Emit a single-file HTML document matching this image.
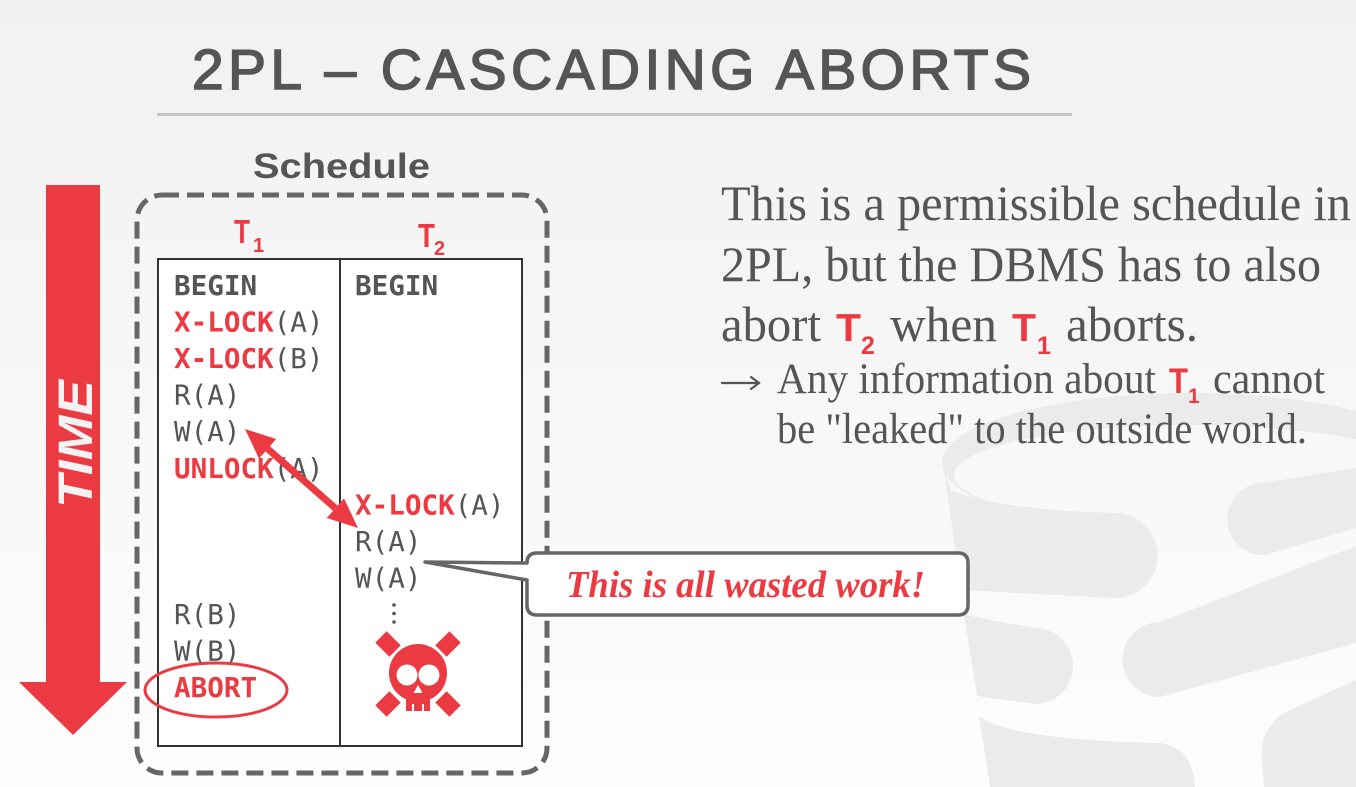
<!DOCTYPE html>
<html><head><meta charset="utf-8"><style>
html,body{margin:0;padding:0;width:1356px;height:787px;overflow:hidden;background:#f6f6f6}
svg{display:block}
</style></head><body>
<svg width="1356" height="787" viewBox="0 0 1356 787" xmlns="http://www.w3.org/2000/svg">
<defs>
<linearGradient id="bg" x1="0" y1="0" x2="0" y2="1"><stop offset="0" stop-color="#f1f1f1"/><stop offset="1" stop-color="#fdfdfd"/></linearGradient>
<clipPath id="ringclip"><rect x="900" y="0" width="456" height="512"/></clipPath>
</defs>
<rect width="1356" height="787" fill="url(#bg)"/>

<!-- watermark -->
<g fill="#ebebeb">
<path clip-path="url(#ringclip)" fill-rule="evenodd" d="M942,463 A248,70 0 1,1 1438,463 A248,70 0 1,1 942,463 Z M954,475 A236,50 0 1,0 1426,475 A236,50 0 1,0 954,475 Z"/>
<path d="M943,463 L950,490 Q1000,510 1115,513 A42.5,42.5 0 0 1 1115,598 L961,590 Z"/>
<path d="M1356,468 L1255,484 A36,36 0 0 0 1265,555 L1356,528 Z"/>
<path d="M964,615 L1035,628 A38,38 0 0 1 1035,704 L977,696 Z"/>
<path d="M1160,622 L1356,546 L1356,643 L1160,697 A37.5,37.5 0 0 1 1160,622 Z"/>
<path d="M979,716 Q1010,740 1160,743 Q1193,748 1195,787 L990,787 Z"/>
<path d="M1356,680 L1290,710 Q1258,725 1262,765 L1264,787 L1356,787 Z"/>
</g>

<!-- title -->
<text x="192" y="89" font-family="Liberation Sans, sans-serif" font-size="57" fill="#555" stroke="#555" stroke-width="1.6" textLength="839" lengthAdjust="spacing">2PL – CASCADING ABORTS</text>
<rect x="157" y="113" width="915" height="3" fill="#c4c4c4"/>

<!-- TIME arrow -->
<rect x="46" y="185" width="54" height="500" fill="#ec3a42"/>
<polygon points="19,682 127,682 73,735" fill="#ec3a42"/>
<text transform="translate(92,508) rotate(-90)" font-family="Liberation Sans, sans-serif" font-weight="bold" font-style="italic" font-size="48" fill="#f3f3f3" textLength="128" lengthAdjust="spacingAndGlyphs">TIME</text>

<!-- Schedule -->
<text x="253" y="178" font-family="Liberation Sans, sans-serif" font-weight="bold" font-size="35" fill="#555" textLength="177" lengthAdjust="spacingAndGlyphs">Schedule</text>
<rect x="137" y="195" width="410" height="578" rx="25" ry="25" fill="none" stroke="#666" stroke-width="5" stroke-dasharray="17 8"/>

<!-- headers -->
<g font-family="Liberation Sans, sans-serif" fill="#ec3a42" font-weight="bold">
<text x="234" y="243" font-size="33" textLength="16" lengthAdjust="spacingAndGlyphs">T</text>
<text x="253" y="252" font-size="20">1</text>
<text x="418" y="247" font-size="33" textLength="17" lengthAdjust="spacingAndGlyphs">T</text>
<text x="434" y="255" font-size="20">2</text>
</g>

<!-- table -->
<rect x="158" y="259" width="364" height="487" fill="#fff" stroke="#333" stroke-width="2"/>
<line x1="340" y1="259" x2="340" y2="746" stroke="#333" stroke-width="2"/>

<g font-family="DejaVu Sans Mono, Liberation Mono, monospace" font-size="27.6" fill="#555">
<text x="174" y="295" font-weight="bold">BEGIN</text>
<text x="174" y="331.5"><tspan font-weight="bold" fill="#ec3a42">X-LOCK</tspan>(A)</text>
<text x="174" y="368"><tspan font-weight="bold" fill="#ec3a42">X-LOCK</tspan>(B)</text>
<text x="174" y="404.6">R(A)</text>
<text x="174" y="441.2">W(A)</text>
<text x="174" y="477.8"><tspan font-weight="bold" fill="#ec3a42">UNLOCK</tspan>(A)</text>
<text x="174" y="624">R(B)</text>
<text x="174" y="660.5">W(B)</text>
<text x="174" y="697" font-weight="bold" fill="#ec3a42">ABORT</text>

<text x="355" y="295" font-weight="bold">BEGIN</text>
<text x="355" y="514.3"><tspan font-weight="bold" fill="#ec3a42">X-LOCK</tspan>(A)</text>
<text x="355" y="550.9">R(A)</text>
<text x="355" y="587.4">W(A)</text>
</g>

<!-- dots -->
<g fill="#555">
<circle cx="394" cy="605" r="1.8"/>
<circle cx="394" cy="613.5" r="1.8"/>
<circle cx="394" cy="622" r="1.8"/>
</g>

<!-- ABORT ellipse -->
<ellipse cx="216" cy="690" rx="71" ry="27" fill="none" stroke="#ec3a42" stroke-width="3"/>

<!-- skull -->
<g fill="#ec3a42">
<rect x="-8" y="-10" width="16" height="20" transform="translate(388,644) rotate(-45)"/>
<rect x="-8" y="-10" width="16" height="20" transform="translate(448,644) rotate(45)"/>
<rect x="-8" y="-10" width="16" height="20" transform="translate(388,704) rotate(45)"/>
<rect x="-8" y="-10" width="16" height="20" transform="translate(448,704) rotate(-45)"/>
<circle cx="418" cy="673" r="29"/>
<rect x="406" y="690" width="24" height="21"/>
</g>
<g fill="#fff">
<circle cx="407" cy="675" r="10.5"/>
<circle cx="429" cy="675" r="10.5"/>
<polygon points="418,685 413.5,693 422.5,693"/>
<rect x="412" y="704" width="2" height="8"/>
<rect x="422" y="704" width="2" height="8"/>
</g>

<!-- double arrow -->
<g fill="#ec3a42">
<line x1="267.6" y1="448.8" x2="335.4" y2="508.2" stroke="#ec3a42" stroke-width="7"/>
<polygon points="245,429 259,458.6 276.2,439"/>
<polygon points="358,528 326.8,518 344,498.4"/>
</g>

<!-- callout -->
<path d="M527,563 Q527,553 537,553 H958 Q968,553 968,563 V605 Q968,615 958,615 H537 Q527,615 527,605 V580 L425,562 Z" fill="#fff" stroke="#666" stroke-width="3.5" stroke-linejoin="round"/>
<text x="566" y="597" font-family="Liberation Serif, serif" font-weight="bold" font-style="italic" font-size="38" fill="#ec3a42" textLength="359" lengthAdjust="spacingAndGlyphs">This is all wasted work!</text>

<!-- right text -->
<g font-family="Liberation Serif, serif" fill="#555">
<text x="721" y="220" font-size="50" textLength="630" lengthAdjust="spacingAndGlyphs">This is a permissible schedule in</text>
<text x="721" y="281" font-size="50" textLength="600" lengthAdjust="spacingAndGlyphs">2PL, but the DBMS has to also</text>
<text x="721" y="341" font-size="50" textLength="100" lengthAdjust="spacingAndGlyphs">abort</text>
<text x="890" y="341" font-size="50" textLength="107" lengthAdjust="spacingAndGlyphs">when</text>
<text x="1066" y="341" font-size="50" textLength="132" lengthAdjust="spacingAndGlyphs">aborts.</text>
<text x="777" y="393" font-size="43" textLength="379" lengthAdjust="spacingAndGlyphs">Any information about</text>
<text x="1213" y="393" font-size="43" textLength="112" lengthAdjust="spacingAndGlyphs">cannot</text>
<text x="777" y="443" font-size="43" textLength="530" lengthAdjust="spacingAndGlyphs">be "leaked" to the outside world.</text>
</g>
<!-- sub-bullet arrow -->
<g stroke="#555" stroke-width="2.2" fill="none" stroke-linecap="round">
<line x1="722" y1="383" x2="758" y2="383"/>
<path d="M751,377 L759,383 L751,389"/>
</g>
<g font-family="Liberation Sans, sans-serif" fill="#ec3a42" font-weight="bold">
<text x="836" y="341" font-size="39" textLength="25" lengthAdjust="spacingAndGlyphs">T</text>
<text x="861" y="354" font-size="25">2</text>
<text x="1012" y="341" font-size="39" textLength="24" lengthAdjust="spacingAndGlyphs">T</text>
<text x="1037" y="354" font-size="25">1</text>
<text x="1169" y="393" font-size="35" textLength="19" lengthAdjust="spacingAndGlyphs">T</text>
<text x="1188" y="403" font-size="21">1</text>
</g>
</svg>
</body></html>
